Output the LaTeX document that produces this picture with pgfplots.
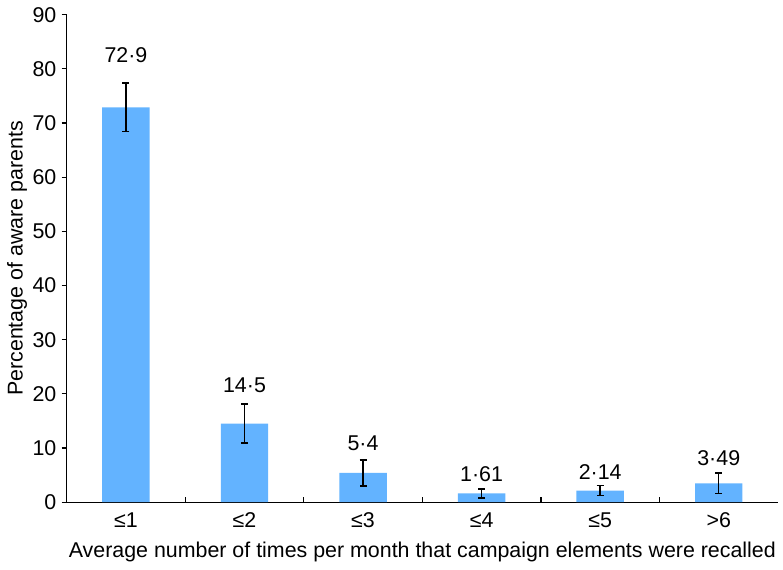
\documentclass[border=0pt]{standalone}
\usepackage{pgfplots}
\pgfplotsset{compat=1.18}
\usepackage{fontspec}
\setmainfont{Liberation Sans}
\definecolor{barblue}{RGB}{99,179,255}
\begin{document}
\fontsize{21.5bp}{24bp}\selectfont
\begin{tikzpicture}
\begin{axis}[
  scale only axis, width=715bp, height=490bp,
  xmin=-0.5, xmax=5.5, ymin=0, ymax=90,
  axis lines*=left,
  axis line style={line width=1.2bp},
  /pgf/number format/assume math mode=true,
  ytick={0,10,...,90},
  tick align=inside,
  major tick length=5bp,
  y tick style={xshift=-5bp, line width=1.2bp, black},
  x tick style={line width=1.2bp, black},
  xtick={0.5,1.5,2.5,3.5,4.5},
  xticklabels={},
  extra x ticks={0,1,2,3,4,5},
  extra x tick labels={≤1,≤2,≤3,≤4,≤5,>6},
  extra x tick style={major tick length=0pt},
  x tick label style={anchor=base, yshift=-25bp},
  y tick label style={xshift=-3bp},
  ylabel={Percentage of aware parents},
  xlabel={Average number of times per month that campaign elements were recalled},
  tick label style={font=\fontsize{21.5bp}{24bp}\selectfont},
  label style={font=\fontsize{21.5bp}{24bp}\selectfont},
  xlabel style={at={(axis description cs:0.5,0)}, anchor=base, yshift=-56bp},
  ylabel shift=-9bp,
  clip=false,
]
\addplot[ybar, bar width=0.4, bar shift=0pt, fill=barblue, draw=none,
  error bars/.cd, y dir=both, y explicit,
  error bar style={black, line width=1.5bp},
  error mark options={rotate=90, mark size=3.5bp, black, line width=1.5bp}]
  table[x=x, y=y, y error=e] {
x y e
0 72.9 4.5
1 14.5 3.6
2 5.4 2.4
3 1.61 0.8
4 2.14 0.9
5 3.49 1.9
};
\addplot[draw=none, mark=none, nodes near coords, point meta=explicit symbolic,
  nodes near coords style={anchor=base, inner sep=0pt, font=\fontsize{21.5bp}{24bp}\selectfont}]
  table[x=x, y=y, meta=label] {
x y label
0 81.2 72·9
1 20.3 14·5
2 9.6 5·4
3 3.9 1·61
4 4.2 2·14
5 6.8 3·49
};
\end{axis}
\end{tikzpicture}
\end{document}
